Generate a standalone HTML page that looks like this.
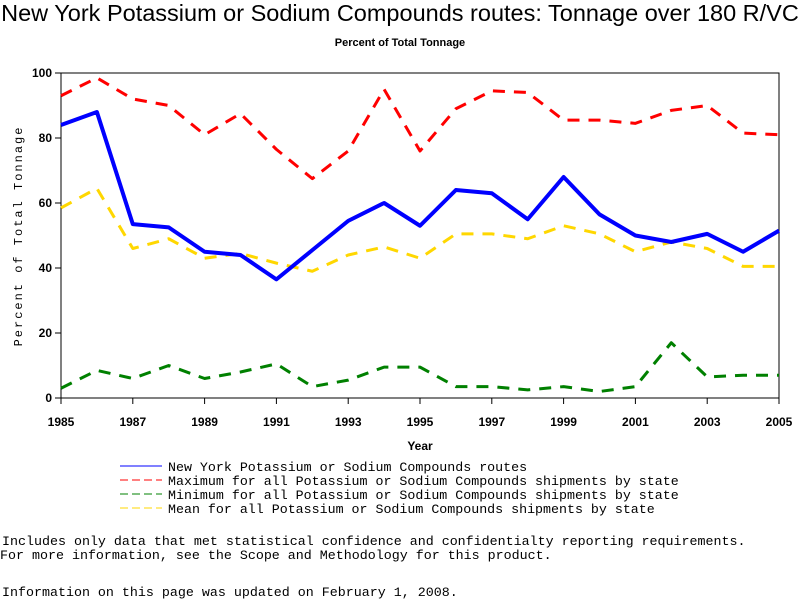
<!DOCTYPE html>
<html><head><meta charset="utf-8"><style>
body{margin:0;background:#fff;width:800px;height:600px;overflow:hidden;position:relative;font-family:"Liberation Sans",sans-serif}
.t{position:absolute;white-space:pre;color:#000}
.m{font-family:"Liberation Mono",monospace}
</style></head><body>
<div class="t" style="left:0;top:0px;width:800px;text-align:center;font-size:23.5px">New York Potassium or Sodium Compounds routes: Tonnage over 180 R/VC</div>
<div class="t" style="left:0;top:37px;width:800px;text-align:center;font-size:11px;font-weight:bold">Percent of Total Tonnage</div>
<svg id="chart" width="800" height="600" style="position:absolute;left:0;top:0"></svg>
<div class="t m" style="left:168px;top:460px;font-size:13.3px">New York Potassium or Sodium Compounds routes</div>
<div class="t m" style="left:168px;top:474px;font-size:13.3px">Maximum for all Potassium or Sodium Compounds shipments by state</div>
<div class="t m" style="left:168px;top:488px;font-size:13.3px">Minimum for all Potassium or Sodium Compounds shipments by state</div>
<div class="t m" style="left:168px;top:502px;font-size:13.3px">Mean for all Potassium or Sodium Compounds shipments by state</div>
<div class="t m" style="left:2px;top:534px;font-size:12.7px;letter-spacing:0.0px;transform:scaleX(1.05);transform-origin:left">Includes only data that met statistical confidence and confidentialty reporting requirements.</div>
<div class="t m" style="left:0px;top:548px;font-size:12.7px;transform:scaleX(1.05);transform-origin:left">For more information, see the Scope and Methodology for this product.</div>
<div class="t m" style="left:2px;top:585px;font-size:12.7px;transform:scaleX(1.05);transform-origin:left">Information on this page was updated on February 1, 2008.</div>
<script>
const years=[1985,1986,1987,1988,1989,1990,1991,1992,1993,1994,1995,1996,1997,1998,1999,2000,2001,2002,2003,2004,2005];
const nyValues=[84,88,53.5,52.5,45,44,36.5,45.5,54.5,60,53,64,63,55,68,56.5,50,48,50.5,45,51.5];
const maxValues=[93,98.5,92,90,81,87.5,76.5,67.5,76,95,76,89,94.5,94,85.5,85.5,84.5,88.5,90,81.5,81];
const minValues=[3,8.5,6,10,6,8,10.5,3.5,5.5,9.5,9.5,3.5,3.5,2.5,3.5,2,3.5,17,6.5,7,7];
const meanValues=[58.5,64.5,46,49,43,44.5,41.5,39,44,46.5,43,50.5,50.5,49,53,50.5,45,48,46,40.5,40.5];
const yTicks=[0,20,40,60,80,100];
const xTicks=[1985,1987,1989,1991,1993,1995,1997,1999,2001,2003,2005];
const X0=61,X1=779,Y0=398,Y1=73;
const xs=v=>X0+(v-1985)/20*(X1-X0);
const ys=v=>Y0-v/100*(Y0-Y1);
const svg=document.getElementById('chart');
const NS='http://www.w3.org/2000/svg';
function mk(tag,attrs){const e=document.createElementNS(NS,tag);for(const k in attrs)e.setAttribute(k,attrs[k]);svg.appendChild(e);return e;}
const frame=mk('rect',{x:X0,y:Y1,width:X1-X0,height:Y0-Y1,fill:'none',stroke:'#000','stroke-width':1});


yTicks.forEach(v=>{
  const l=mk('line',{x1:X0-6,x2:X0,y1:ys(v),y2:ys(v),stroke:'#000'});
  
  
  const t=mk('text',{x:X0-9,y:ys(v)+4,'text-anchor':'end','font-size':'12','font-weight':'bold','font-family':'Liberation Sans, sans-serif'});
  t.textContent=v;
  
  
});
xTicks.forEach(v=>{
  const l=mk('line',{x1:xs(v),x2:xs(v),y1:Y0,y2:Y0+6,stroke:'#000'});
  
  
  const t=mk('text',{x:xs(v),y:Y0+28,'text-anchor':'middle','font-size':'12','font-weight':'bold','font-family':'Liberation Sans, sans-serif'});
  t.textContent=v;
  
  
});
const xt=mk('text',{x:420,y:450,'text-anchor':'middle','font-size':'12','font-weight':'bold','font-family':'Liberation Sans, sans-serif'});
xt.textContent='Year';


const yt=mk('text',{x:0,y:0,transform:'translate(22,236) rotate(-90)','text-anchor':'middle','font-size':'12','letter-spacing':'2','font-family':'Liberation Mono, monospace'});
yt.textContent='Percent of Total Tonnage';


function series(vals,color,w,dash,name){
  const p=mk('polyline',{points:vals.map((v,i)=>xs(years[i])+','+ys(v)).join(' '),fill:'none',stroke:color,'stroke-width':w,'stroke-dasharray':dash,'stroke-linejoin':'round'});
  
  
}
series(maxValues,'#ff0000',3,'12,9','series-max');
series(minValues,'#008000',3,'12,9','series-min');
series(meanValues,'#ffd700',3,'12,9','series-mean');
series(nyValues,'#0000ff',4,'none','series-ny');
function leg(y,color,dash,name){
  const l=mk('line',{x1:120,x2:162,y1:y,y2:y,stroke:color,'stroke-width':1,'stroke-dasharray':dash});
  
  
}
leg(466,'#0000ff','none','legend-swatch-ny');
leg(480,'#ff0000','8,4','legend-swatch-max');
leg(494,'#008000','8,4','legend-swatch-min');
leg(508,'#ffd700','8,4','legend-swatch-mean');
</script>
</body></html>
